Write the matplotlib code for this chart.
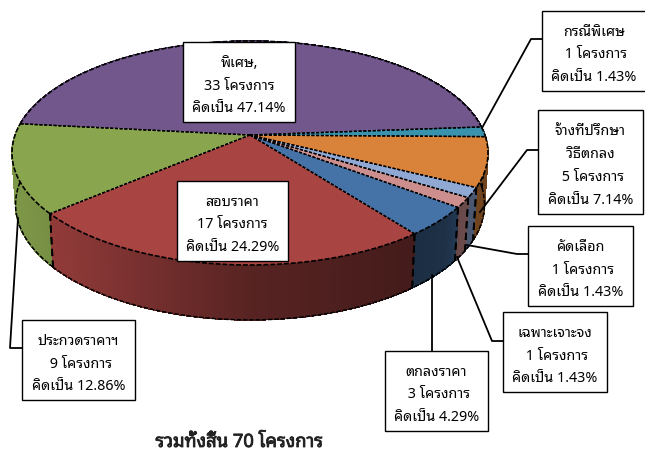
import numpy as np
import matplotlib
matplotlib.use('Agg')
import matplotlib.pyplot as plt
import matplotlib.patheffects as pe
from matplotlib.patches import Polygon, Rectangle

names = ['พิเศษ,', 'กรณีพิเศษ', 'จ้างที่ปรึกษา\nวิธีตกลง', 'คัดเลือก', 'เฉพาะเจาะจง', 'ตกลงราคา', 'สอบราคา', 'ประกวดราคาฯ']
projects = [33, 1, 5, 1, 1, 3, 17, 9]
percents = ['47.14', '1.43', '7.14', '1.43', '1.43', '4.29', '24.29', '12.86']
colors = ['#72578c', '#3a93ad', '#d8823a', '#8fa8d4', '#cc8f8e', '#4573a7', '#a84442', '#89a54e']
footer = 'รวมทั้งสิ้น 70 โครงการ'

# pixel layout
box_x0 = [183, 542, 538, 528, 503, 385, 177, 22]
box_x1 = [295, 646, 643, 633, 607, 488, 288, 135]
box_y0 = [42, 11, 110, 226, 312, 351, 181, 320]
box_y1 = [122, 91, 214, 306, 392, 431, 261, 400]
leaders = [None,
           [(482, 128), (531, 39), (542, 39)],
           [(480, 212), (527, 150), (538, 150)],
           [(467, 245), (517, 254), (528, 254)],
           [(457, 257), (492, 341), (503, 341)],
           [(432, 275), (432, 351)],
           None,
           [(18, 218), (10, 348), (22, 348)]]

plt.rcParams['font.family'] = ['Noto Sans Thai Looped', 'Noto Sans Thai', 'Sarabun', 'DejaVu Sans']

fig = plt.figure(figsize=(6.45, 4.55), dpi=100)
ax = fig.add_axes([0, 0, 1, 1])
ax.set_xlim(0, 645)
ax.set_ylim(455, 0)
ax.axis('off')


def top_rim(phi):
    # circle seen in perspective
    u, v = np.sin(phi), np.cos(phi)
    d = 1 + 0.1607 * v
    return 250 + 234.9 * u / d, 135 - 109.1 * v / d


def low_rim(phi):
    u, v = np.sin(phi), np.cos(phi)
    d = 1 + 0.1607 * v
    return 250 + 231.4 * u / d, 186 - 112.4 * v / d


def shade(col, x):
    # walls get darker going to the right
    f = np.interp(x, [10, 60, 250, 420, 445, 462, 490], [0.92, 0.85, 0.52, 0.40, 0.42, 0.52, 0.52])
    return tuple(c * f for c in matplotlib.colors.to_rgb(col))


edges = np.radians(276 + np.cumsum([0] + projects) / sum(projects) * 360)
dot = (0, (2.2, 1.2))
rim = (0, (3, 1.1))
long_dash = (0, (4, 2.5))

# side walls, back ones first
order = sorted(range(len(projects)), key=lambda i: np.cos((edges[i] + edges[i + 1]) / 2), reverse=True)
for i in order:
    n = max(int(np.degrees(edges[i + 1] - edges[i]) * 4) + 2, 6)
    t = np.linspace(edges[i], edges[i + 1], n)
    xa, ya = top_rim(t)
    xb, yb = low_rim(t)
    for j in range(len(t) - 1):
        c = shade(colors[i], xa[j])
        ax.add_patch(Polygon([(xa[j], ya[j]), (xa[j + 1], ya[j + 1]), (xb[j + 1], yb[j + 1]), (xb[j], yb[j])],
                             fc=c, ec=c, lw=0.5, antialiased=False, zorder=2))
    ax.plot(xb, yb, color='black', lw=1.1, ls=rim, zorder=3)
    for e in (edges[i], edges[i + 1]):
        if np.cos(e) < 0.05:
            ax.plot([top_rim(e)[0], low_rim(e)[0]], [top_rim(e)[1], low_rim(e)[1]],
                    color='black', lw=1.3, ls=long_dash, zorder=3)

# top face
for i in range(len(projects)):
    t = np.linspace(edges[i], edges[i + 1], 80)
    xa, ya = top_rim(t)
    pts = [(250, 135)] + list(zip(xa, ya))
    ax.add_patch(Polygon(pts, closed=True, fc=colors[i], ec='none', zorder=4))
    ax.plot(xa, ya, color='black', lw=1.2, ls=rim, zorder=5)
    for e in (edges[i], edges[i + 1]):
        ax.plot([250, top_rim(e)[0]], [135, top_rim(e)[1]], color='black', lw=1.0, ls=dot, zorder=5)

for i in range(len(names)):
    x0, x1, y0, y1 = box_x0[i], box_x1[i], box_y0[i], box_y1[i]
    if leaders[i] is not None:
        lx, ly = zip(*leaders[i])
        ax.plot(lx, ly, color='black', lw=1.3, zorder=6, solid_joinstyle='round')
    ax.add_patch(Rectangle((x0, y0), x1 - x0, y1 - y0, fc='white', ec='black', lw=1.0, zorder=7))
    pre = '' if i in (0, 6) else ' '
    label = '%s\n%s%d โครงการ\nคิดเป็น %s%%' % (names[i], pre, projects[i], percents[i])
    ax.text((x0 + x1) / 2, (y0 + y1) / 2 + 4, label, ha='center', va='center', fontsize=10.3,
            linespacing=1.72, color='black', zorder=8)

ax.text(239, 442, footer, ha='center', va='center', fontsize=13.2, color='#222222',
        path_effects=[pe.withStroke(linewidth=0.6, foreground='#222222')])

fig.savefig('out.png', dpi=100)
